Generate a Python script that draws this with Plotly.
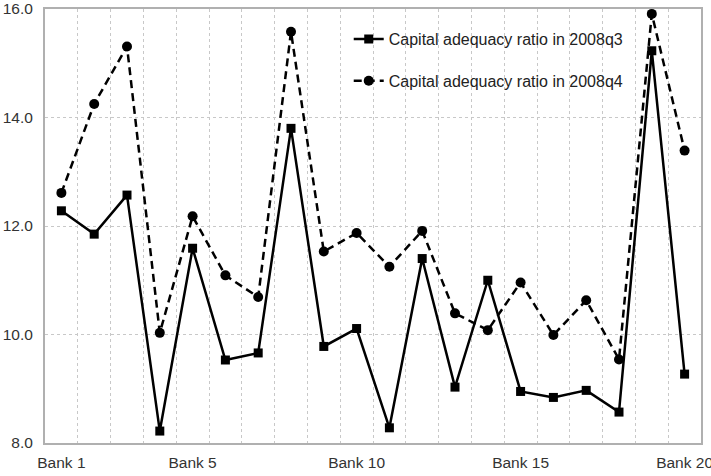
import plotly.graph_objects as go

banks = [f"Bank {i}" for i in range(1, 21)]
q3 = [12.28, 11.85, 12.57, 8.22, 11.59, 9.53, 9.66, 13.80, 9.78, 10.11,
      8.28, 11.40, 9.03, 11.00, 8.95, 8.84, 8.97, 8.57, 15.23, 9.27]
q4 = [12.61, 14.25, 15.31, 10.03, 12.18, 11.09, 10.69, 15.58, 11.53, 11.87,
      11.25, 11.91, 10.39, 10.08, 10.96, 9.99, 10.63, 9.54, 15.91, 13.39]
tick_positions = [1, 5, 10, 15, 20]
tick_labels = ["Bank 1", "Bank 5", "Bank 10", "Bank 15", "Bank 20"]
y_ticks = [8, 10, 12, 14, 16]
y_tick_labels = ["8.0", "10.0", "12.0", "14.0", "16.0"]

x = list(range(1, len(banks) + 1))

fig = go.Figure()
fig.add_trace(go.Scatter(
    x=x, y=q3, mode="lines+markers", name="Capital adequacy ratio in 2008q3",
    line=dict(color="black", width=2.5),
    marker=dict(symbol="square", size=9, color="black"),
    legendgroup="a", text=banks, cliponaxis=False,
))
fig.add_trace(go.Scatter(
    x=x, y=q4, mode="lines+markers", name="Capital adequacy ratio in 2008q4",
    line=dict(color="black", width=2.5, dash="8px,5px"),
    marker=dict(symbol="circle", size=10, color="black"),
    legendgroup="b", text=banks, cliponaxis=False,
))

fig.update_layout(
    width=711, height=476,
    margin=dict(l=45, r=10, t=9, b=33, autoexpand=False),
    paper_bgcolor="white", plot_bgcolor="white",
    font=dict(family="Liberation Sans, Arial, sans-serif", size=15, color="#333333"),
    showlegend=True,
    legend=dict(
        x=0.463, y=0.970, xanchor="left", yanchor="top",
        bgcolor="rgba(0,0,0,0)", font=dict(size=16, color="#222222"),
        tracegroupgap=18, itemwidth=30,
    ),
    xaxis=dict(
        range=[0.5, 20.5], automargin=False,
        tickmode="array", tickvals=tick_positions, ticktext=tick_labels,
        ticklabeloverflow="allow", ticklabelstandoff=4,
        showgrid=False, zeroline=False,
        showline=True, linecolor="#b0b0b0", linewidth=2, mirror=True,
        ticks="", tickfont=dict(size=15.5, color="#333333"),
        minor=dict(tickmode="linear", tick0=0.5, dtick=1, showgrid=True,
                   gridcolor="#c8c8c8", gridwidth=1, griddash="3px,3px", ticks=""),
    ),
    yaxis=dict(
        range=[8, 16], automargin=False,
        tickmode="array", tickvals=y_ticks, ticktext=y_tick_labels,
        ticklabeloverflow="allow", ticklabelstandoff=7,
        showgrid=True, gridcolor="#c8c8c8", gridwidth=1, griddash="3px,3px",
        zeroline=False,
        showline=True, linecolor="#b0b0b0", linewidth=2, mirror=True,
        ticks="", tickfont=dict(size=15.5, color="#333333"),
    ),
)

fig.write_html("out.html")
